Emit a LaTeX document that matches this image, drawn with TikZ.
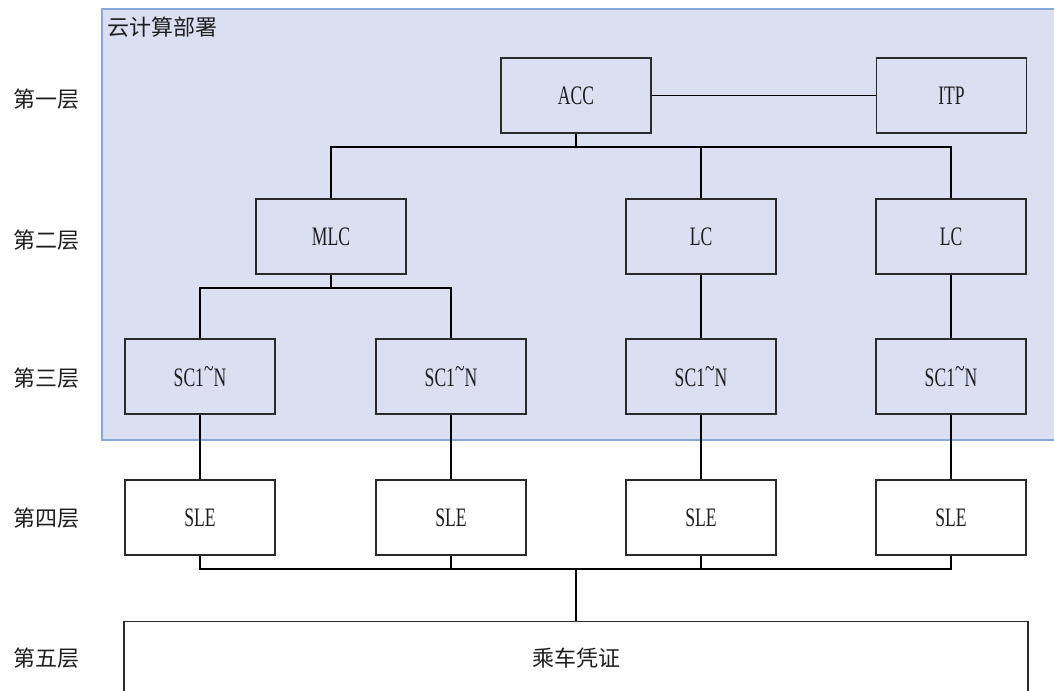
\documentclass[tikz,border=0pt]{standalone}
\usepackage{fontspec}
\setmainfont{Liberation Serif}[FakeStretch=0.66]
\newfontfamily\cjk{Noto Sans CJK SC}
\definecolor{cloudfill}{HTML}{DAE0F2}
\definecolor{cloudline}{HTML}{86A9D9}
\definecolor{linec}{HTML}{2A2A2A}
\definecolor{textc}{HTML}{1E1E1E}
\tikzset{
  unitbox/.style={draw=linec, line width=0.9pt, minimum width=112.5pt, minimum height=56.25pt, inner sep=0pt, text=textc, font=\fontsize{20}{22}\selectfont},
  wide/.style={draw=linec, line width=0.9pt, minimum width=678pt, minimum height=90pt, inner sep=0pt, anchor=north},
  layer/.style={text=textc, font=\cjk\fontsize{16.5}{18}\selectfont, inner sep=0pt},
  conn/.style={draw=black, line width=1pt}
}
\newcommand{\sctext}{SC1\raisebox{0.75ex}{\textasciitilde}N}
\begin{document}
\begin{tikzpicture}[x=0.75pt,y=-0.75pt]
\useasboundingbox (0,0) rectangle (1054,691);
\clip (0,0) rectangle (1054,691);
% cloud region
\path[fill=cloudfill, draw=cloudline, line width=1.1pt] (102,9) rectangle (1070,440);
\node[layer, anchor=west] (cloudlbl) at (107,27) {云计算部署};
% layer labels
\node[layer] (l1) at (46,99) {第一层};
\node[layer] (l2) at (46,240) {第二层};
\node[layer] (l3) at (46,378) {第三层};
\node[layer] (l4) at (46,518) {第四层};
\node[layer] (l5) at (46,658) {第五层};
% boxes
\node[unitbox] (acc) at (576,95.5) {ACC};
\node[unitbox] (itp) at (951.5,95.5) {ITP};
\node[unitbox] (mlc) at (331,236.5) {MLC};
\node[unitbox] (lca) at (701,236.5) {LC};
\node[unitbox] (lcb) at (951,236.5) {LC};
\node[unitbox] (sca) at (200,376.5) {\sctext};
\node[unitbox] (scb) at (451,376.5) {\sctext};
\node[unitbox] (scc) at (701,376.5) {\sctext};
\node[unitbox] (scd) at (951,376.5) {\sctext};
\node[unitbox] (slea) at (200,517.5) {SLE};
\node[unitbox] (sleb) at (451,517.5) {SLE};
\node[unitbox] (slec) at (701,517.5) {SLE};
\node[unitbox] (sled) at (951,517.5) {SLE};
\node[wide] (ticket) at (576,621) {};
\node[layer] (ticketlbl) at (576,658) {乘车凭证};
% connectors
\coordinate (bus1) at (576,147);
\coordinate (bus2) at (331,288);
\coordinate (bus3) at (576,569);
\draw[conn] (acc.east) -- (itp.west);
\draw[conn] (acc.south) -- (bus1);
\draw[conn] (mlc.north) |- (bus1) -| (lcb.north);
\draw[conn] (lca.north) -- (lca.north |- bus1);
\draw[conn] (mlc.south) -- (bus2);
\draw[conn] (sca.north) |- (bus2) -| (scb.north);
\draw[conn] (lca.south) -- (scc.north);
\draw[conn] (lcb.south) -- (scd.north);
\draw[conn] (sca.south) -- (slea.north);
\draw[conn] (scb.south) -- (sleb.north);
\draw[conn] (scc.south) -- (slec.north);
\draw[conn] (scd.south) -- (sled.north);
\draw[conn] (slea.south) |- (bus3) -| (sled.south);
\draw[conn] (sleb.south) -- (sleb.south |- bus3);
\draw[conn] (slec.south) -- (slec.south |- bus3);
\draw[conn] (bus3) -- (ticket.north);
\end{tikzpicture}
\end{document}
